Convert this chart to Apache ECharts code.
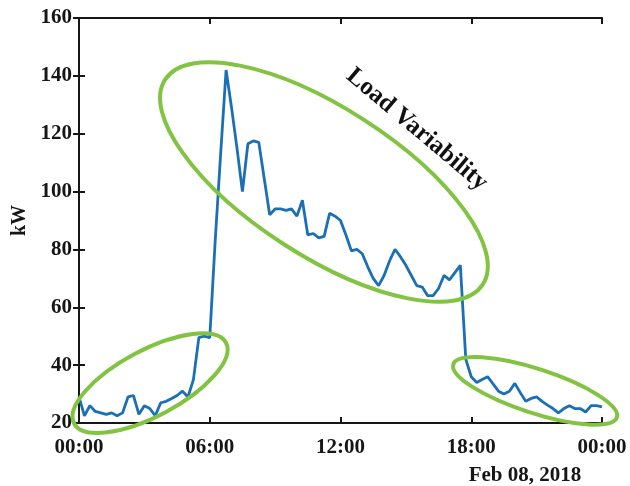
<!DOCTYPE html>
<html>
<head>
<meta charset="utf-8">
<script src="https://cdn.jsdelivr.net/npm/echarts@6/dist/echarts.min.js"></script>
<style>
  html, body { margin: 0; padding: 0; background: #fff; }
  #chart { width: 630px; height: 486px; }
</style>
</head>
<body>
<div id="chart"></div>
<script>
// 15-minute samples, 00:00 .. 24:00
const stepHours = 0.25
const loadKw = [
  29, 22.5, 26, 24, 23.5, 23, 23.5, 22.5, 23.5, 29,
  29.5, 23, 26, 25, 22.5, 27, 27.5, 28.5, 29.5, 31,
  29, 35, 49.5, 50, 49.5, 83, 113, 142, 129, 115,
  100, 116.5, 117.5, 117, 104.5, 92, 94, 94, 93.5, 94,
  91.5, 97, 85, 85.5, 84, 84.5, 92.5, 91.5, 90, 85,
  79.5, 80, 78.5, 74, 70, 67.5, 71, 76, 80, 77.5,
  74.5, 71, 67.5, 67, 64, 64, 66.5, 71, 69.5, 72,
  74.5, 42, 36, 34, 35, 36, 33.5, 31, 30, 31,
  33.7, 30.5, 27.5, 28.5, 29, 27.5, 26.2, 25, 23.5, 25,
  26, 25, 25, 23.8, 26, 26, 25.6
]
const timeLabels = ['00:00', '06:00', '12:00', '18:00', '00:00']
const dateLabel = 'Feb 08, 2018'

// annotation ellipses: centre in [hour, kW], radii in px, tilt in degrees (clockwise)
const regions = [
  { center: [11.24, 103.3], rx: 189, ry: 74, tilt: 32.8 },
  { center: [3.26, 33.8], rx: 86, ry: 33, tilt: -28 },
  { center: [20.93, 31.1], rx: 86, ry: 22, tilt: 18 },
]
const regionLabel = { text: 'Load Variability', at: [15.5, 121.5], tilt: 40 }

const font = 'Liberation Serif, Times New Roman, serif'
const ink = '#161616'
const green = '#82c341'

const chart = echarts.init(document.getElementById('chart'), null, { renderer: 'canvas' })

const axisLine = { show: true, lineStyle: { color: ink, width: 2 } }
const tickIn = { show: true, inside: true, length: 6, lineStyle: { color: ink, width: 2 } }
const labelStyle = { color: ink, fontFamily: font, fontWeight: 'bold', fontSize: 21 }

chart.setOption({
  animation: false,
  backgroundColor: '#fff',
  grid: { left: 79, top: 18, right: 28, bottom: 63 },
  xAxis: [
    {
      type: 'value',
      min: 0,
      max: 24,
      interval: 6,
      axisLine,
      axisTick: tickIn,
      splitLine: { show: false },
      axisLabel: {
        ...labelStyle,
        margin: 14,
        formatter: (value) => timeLabels[Math.round(value / 6)],
      },
    },
    {
      type: 'value',
      position: 'top',
      min: 0,
      max: 24,
      interval: 6,
      axisLine,
      axisTick: tickIn,
      axisLabel: { show: false },
      splitLine: { show: false },
    },
  ],
  yAxis: [
    {
      type: 'value',
      min: 20,
      max: 160,
      interval: 20,
      name: 'kW',
      nameLocation: 'middle',
      nameRotate: 90,
      nameGap: 48,
      nameTextStyle: { ...labelStyle, fontSize: 20 },
      axisLine,
      axisTick: tickIn,
      splitLine: { show: false },
      axisLabel: { ...labelStyle, margin: 7 },
    },
    {
      type: 'value',
      position: 'right',
      min: 20,
      max: 160,
      interval: 20,
      axisLine,
      axisTick: tickIn,
      axisLabel: { show: false },
      splitLine: { show: false },
    },
  ],
  series: [
    {
      type: 'line',
      data: loadKw.map((v, i) => [i * stepHours, v]),
      showSymbol: false,
      lineStyle: { color: '#1a6fb5', width: 2.8 },
      z: 3,
    },
  ],
})

const toPx = (pt) => chart.convertToPixel({ xAxisIndex: 0, yAxisIndex: 0 }, pt)
const rad = (deg) => -deg * Math.PI / 180

const graphics = regions.map((r) => {
  const [x, y] = toPx(r.center)
  return {
    type: 'ellipse',
    x,
    y,
    rotation: rad(r.tilt),
    shape: { cx: 0, cy: 0, rx: r.rx, ry: r.ry },
    style: { fill: 'none', stroke: green, lineWidth: 4 },
    z: 10,
  }
})

const [lx, ly] = toPx(regionLabel.at)
graphics.push({
  type: 'text',
  x: lx,
  y: ly,
  rotation: rad(regionLabel.tilt),
  style: {
    text: regionLabel.text,
    font: `bold 25px ${font}`,
    fill: '#111',
    textAlign: 'center',
    textVerticalAlign: 'middle',
  },
  z: 11,
})

graphics.push({
  type: 'text',
  x: 525,
  y: 476,
  style: {
    text: dateLabel,
    font: `bold 21px ${font}`,
    fill: ink,
    textAlign: 'center',
    textVerticalAlign: 'middle',
  },
})

chart.setOption({ graphic: graphics })
</script>
</body>
</html>
